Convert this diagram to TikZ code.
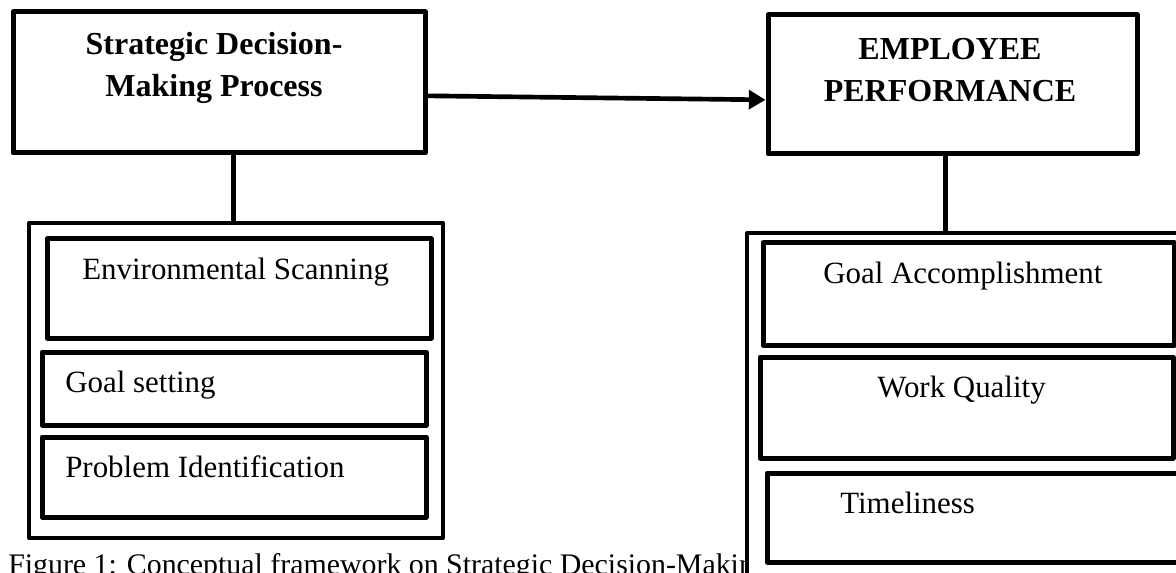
\documentclass[tikz,border=0pt]{standalone}
\usepackage{fontspec}
\setmainfont{Liberation Serif}
\usetikzlibrary{arrows.meta,fit}
\begin{document}
\begin{tikzpicture}[x=0.75pt,y=-0.75pt,
  font=\fontsize{23.2}{28}\selectfont,
  headbox/.style={draw,line width=3.75pt,line join=round,inner sep=0pt},
  groupbox/.style={draw,fill=white,line width=3pt,line join=round,inner sep=0pt},
  itembox/.style={draw,line width=3.75pt,line join=round,inner sep=0pt},
  item/.style={anchor=base west,inner sep=0pt},
  head/.style={align=center,inner sep=0pt,font=\fontsize{24}{31.5}\selectfont\bfseries},
  link/.style={line width=3.5pt}]

\useasboundingbox (0,0) rectangle (1176,573);
\clip (0,0) rectangle (1176,573);

\node[item,font=\fontsize{22.4}{27}\selectfont] (caption) at (8,574) {Figure 1: Conceptual framework on Strategic Decision-Making};

\node[headbox,fit={(13,12) (425,153)}] (sdm) {};
\node[head] (sdmtext) at (214,68) {Strategic Decision-\\Making Process};
\node[headbox,fit={(768,15) (1137,154)}] (emp) {};
\node[head] (emptext) at (950,70) {EMPLOYEE\\PERFORMANCE};

\node[groupbox,fit={(29,223) (443,538)}] (sdmset) {};
\node[itembox,fit={(47,239) (431,338)}] (scan) {};
\node[itembox,fit={(42,352) (426,425)}] (goalset) {};
\node[itembox,fit={(42,437) (426,517)}] (problem) {};
\node[item] (scantext) at (82,280) {Environmental Scanning};
\node[item] (goalsettext) at (65,392) {Goal setting};
\node[item] (problemtext) at (65,477) {Problem Identification};

\node[groupbox,fit={(747,233) (1200,610)}] (empset) {};
\node[itembox,fit={(763,243) (1174,345)}] (accomp) {};
\node[itembox,fit={(760,357) (1173,458)}] (quality) {};
\node[itembox,fit={(767,473) (1178,562)}] (timely) {};
\node[item] (accomptext) at (823,283) {Goal Accomplishment};
\node[item] (qualitytext) at (877,397) {Work Quality};
\node[item] (timelytext) at (840,513) {Timeliness};

\draw[link,-{Triangle[length=12.5pt,width=14pt]}] ([yshift=-10pt]sdm.east) -- ([yshift=-11.5pt]emp.west);
\draw[link] ([xshift=-2pt]sdmset.north) -- ([xshift=-2pt]sdmset.north |- sdm.south);
\draw[link] ([xshift=-5.5pt]emp.south) -- ([xshift=-5.5pt]emp.south |- empset.north);
\end{tikzpicture}
\end{document}
